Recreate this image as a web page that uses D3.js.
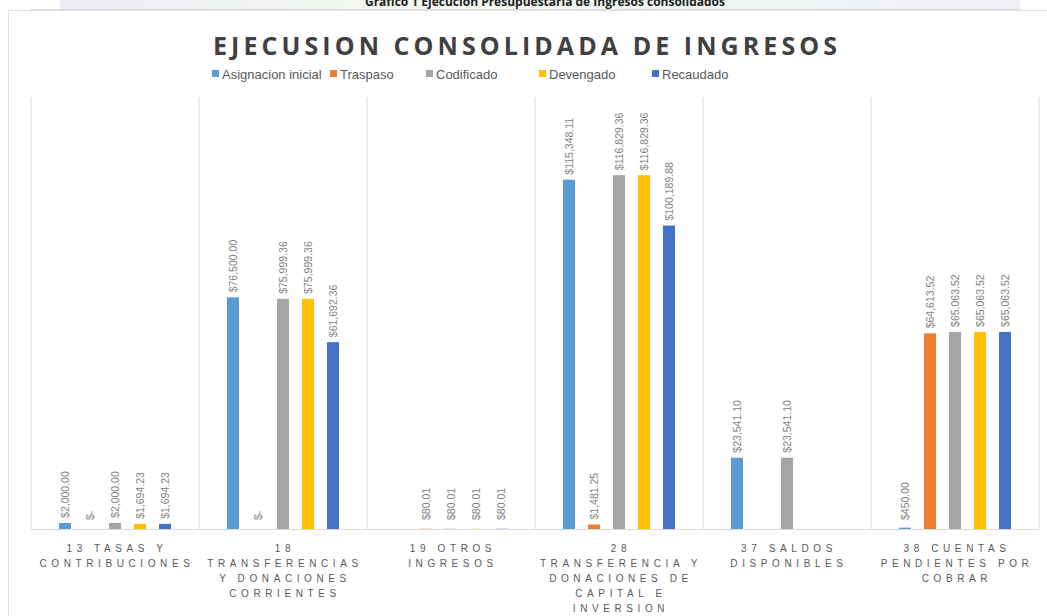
<!DOCTYPE html>
<html>
<head>
<meta charset="utf-8">
<script src="https://cdn.jsdelivr.net/npm/d3@7"></script>
<style>
  body { margin: 0; background: #fff; }
  svg { display: block; }
</style>
</head>
<body>
<svg id="chart" width="1047" height="616"></svg>
<script>
// datos
var categories = ["13", "18", "19", "28", "37", "38"];
var categoryLines = [
  ["13 TASAS Y", "CONTRIBUCIONES"],
  ["18", "TRANSFERENCIAS", "Y DONACIONES", "CORRIENTES"],
  ["19 OTROS", "INGRESOS"],
  ["28", "TRANSFERENCIA Y", "DONACIONES DE", "CAPITAL E", "INVERSION"],
  ["37 SALDOS", "DISPONIBLES"],
  ["38 CUENTAS", "PENDIENTES POR", "COBRAR"]
];
var seriesNames = ["Asignacion inicial", "Traspaso", "Codificado", "Devengado", "Recaudado"];
var seriesColors = ["#5b9bd5", "#ed7d31", "#a5a5a5", "#ffc000", "#4472c4"];

// null = sin etiqueta
var asignacion = [2000.00, 76500.00, null, 115348.11, 23541.10, 450.00];
var traspaso   = [0, 0, 80.01, 1481.25, null, 64613.52];
var codificado = [2000.00, 75999.36, 80.01, 116829.36, 23541.10, 65063.52];
var devengado  = [1694.23, 75999.36, 80.01, 116829.36, null, 65063.52];
var recaudado  = [1694.23, 61692.36, 80.01, 100189.88, null, 65063.52];
var allSeries = [asignacion, traspaso, codificado, devengado, recaudado];

var svg = d3.select("#chart");
var baseY = 529, topY = 97;

// franja superior con el titulo del documento (cortado)
var grad = svg.append("defs").append("linearGradient").attr("id", "strip");
grad.append("stop").attr("offset", "0%").attr("stop-color", "#ececf6");
grad.append("stop").attr("offset", "35%").attr("stop-color", "#f3f8ee");
grad.append("stop").attr("offset", "70%").attr("stop-color", "#eef5f3");
grad.append("stop").attr("offset", "100%").attr("stop-color", "#f1eff8");
svg.append("rect").attr("x", 60).attr("y", 0).attr("width", 960).attr("height", 9)
  .attr("fill", "url(#strip)");
svg.append("line").attr("x1", 30).attr("x2", 1020).attr("y1", 9.5).attr("y2", 9.5)
  .attr("stroke", "#dcdcdc");
svg.append("text").attr("x", 545).attr("y", 6)
  .attr("text-anchor", "middle")
  .style("font", "bold 12px 'Open Sans', sans-serif").style("fill", "#222")
  .text("Gráfico 1 Ejecución Presupuestaria de Ingresos consolidados");

// marco del grafico
svg.append("rect").attr("x", 8.5).attr("y", 10.5).attr("width", 1045).attr("height", 620)
  .attr("fill", "#fff").attr("stroke", "#dedede");

var x = d3.scaleBand().domain(categories).range([31, 1039]).padding(0);
var xs = d3.scaleBand().domain(seriesNames).range([-62.5, 62.5])
  .paddingInner(0.52).paddingOuter(0.26);
var y = d3.scaleLinear().domain([0, 140000]).range([baseY, 105]);

// separadores de categoria
svg.append("g").selectAll("line")
  .data(categories.concat(["end"]))
  .join("line")
  .attr("x1", function(d) { return d === "end" ? x.range()[1] : x(d); })
  .attr("x2", function(d) { return d === "end" ? x.range()[1] : x(d); })
  .attr("y1", topY).attr("y2", baseY)
  .attr("stroke", "#d9d9d9");
svg.append("line").attr("x1", 31).attr("x2", 1039).attr("y1", baseY + 0.5).attr("y2", baseY + 0.5)
  .attr("stroke", "#d9d9d9");

// titulo
svg.append("text").attr("x", 525).attr("y", 55)
  .attr("text-anchor", "middle")
  .attr("textLength", 624).attr("lengthAdjust", "spacing")
  .style("font", "bold 25px 'Open Sans', sans-serif").style("fill", "#404040")
  .text("EJECUSION  CONSOLIDADA  DE  INGRESOS");

// leyenda
var legendX = [212, 330, 426, 539, 652];
var leg = svg.append("g").selectAll("g").data(seriesNames).join("g")
  .attr("transform", function(d, i) { return "translate(" + legendX[i] + ",74)"; });
leg.append("rect").attr("x", 0).attr("y", -4).attr("width", 7).attr("height", 7)
  .attr("fill", function(d, i) { return seriesColors[i]; });
leg.append("text").attr("x", 10).attr("y", 0).attr("dy", "0.35em")
  .style("font", "13px 'Liberation Sans', sans-serif").style("fill", "#595959")
  .text(function(d) { return d; });

// barras
var fmt = d3.format(",.2f");
var cells = [];
categories.forEach(function(c, ci) {
  seriesNames.forEach(function(s, si) {
    cells.push({cat: c, ser: s, si: si, v: allSeries[si][ci]});
  });
});
function cx(d) { return x(d.cat) + x.bandwidth() / 2 + xs(d.ser); }

svg.append("g").selectAll("rect")
  .data(cells.filter(function(d) { return d.v; }))
  .join("rect")
  .attr("x", cx)
  .attr("y", function(d) { return y(d.v); })
  .attr("width", xs.bandwidth())
  .attr("height", function(d) { return baseY - y(d.v); })
  .attr("fill", function(d) { return seriesColors[d.si]; });

// etiquetas de valor
svg.append("g").selectAll("text")
  .data(cells.filter(function(d) { return d.v !== null; }))
  .join("text")
  .attr("transform", function(d) {
    var tx = cx(d) + xs.bandwidth() / 2;
    var ty = Math.min(y(d.v), baseY - 4) - 5;
    return "translate(" + tx + "," + ty + ") rotate(-90)";
  })
  .attr("dy", "0.35em")
  .style("font", "10.5px 'Liberation Sans', sans-serif").style("fill", "#7f7f7f")
  .text(function(d) { return d.v === 0 ? "$-" : "$" + fmt(d.v); });

// etiquetas de categoria
var catG = svg.append("g").selectAll("text").data(categories).join("text")
  .attr("x", function(d) { return x(d) + x.bandwidth() / 2 + 2; })
  .attr("y", 552)
  .attr("text-anchor", "middle")
  .style("font", "10px 'Liberation Sans', sans-serif").style("fill", "#595959")
  .style("letter-spacing", "4.6px");
catG.selectAll("tspan")
  .data(function(d, i) { return categoryLines[i]; })
  .join("tspan")
  .attr("x", function() { return +d3.select(this.parentNode).attr("x"); })
  .attr("dy", function(d, i) { return i === 0 ? 0 : 15; })
  .text(function(d) { return d; });
</script>
</body>
</html>
